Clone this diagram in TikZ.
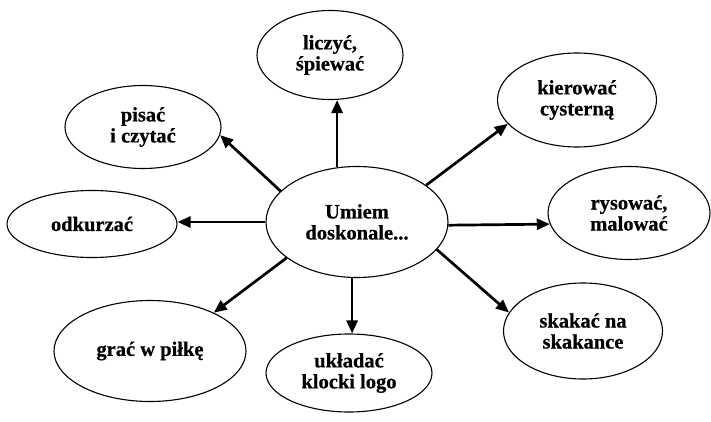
\documentclass[tikz,border=0pt]{standalone}
\usepackage{fontspec}
\setmainfont{Liberation Serif}[BoldFeatures={FakeBold=0.6}]
\usetikzlibrary{shapes.geometric,arrows.meta}
\tikzset{
  bubble/.style={draw, ellipse, line width=1.1pt, inner sep=0pt, align=center,
    font=\bfseries\fontsize{20.5}{21}\selectfont},
  arr/.style={line width=2.7pt, -{Triangle[length=13pt,width=11pt]}},
}
\begin{document}
\begin{tikzpicture}[x=1pt,y=-1pt]
\useasboundingbox (0,0) rectangle (711,422);

% central idea
\node[bubble, minimum width=182pt, minimum height=111pt] (c) at (357,222) {Umiem\\doskonale...};

% surrounding skills
\node[bubble, minimum width=146pt, minimum height=89pt] (l) at (330,55) {liczyć,\\śpiewać};
\node[bubble, minimum width=156pt, minimum height=83pt] (p) at (143,127) {pisać\\i czytać};
\node[bubble, minimum width=170pt, minimum height=67pt] (o) at (92,224) {odkurzać};
\node[bubble, minimum width=192pt, minimum height=101pt] (g) at (150,351) {grać w piłkę};
\node[bubble, minimum width=166pt, minimum height=78pt] (u) at (349,373) {układać\\klocki logo};
\node[bubble, minimum width=159pt, minimum height=94pt] (k) at (577,100) {kierować\\cysterną};
\node[bubble, minimum width=162pt, minimum height=93pt] (r) at (629,213) {rysować,\\malować};
\node[bubble, minimum width=159pt, minimum height=96pt] (s) at (583,331) {skakać na\\skakance};

% connectors
\draw[arr] (c.110) -- (c.110 |- l.south);
\draw[arr] (c.158) -- (p.354);
\draw[arr] (c.west) -- (c.west -| o.east);
\draw[arr] (c.207) -- (g.31);
\draw[arr] (c.265) -- (c.265 |- u.north);
\draw[arr] (c.28) -- (k.199);
\draw[arr] (c.358) -- (r.188);
\draw[arr] (c.341) -- (s.166);
\end{tikzpicture}
\end{document}
